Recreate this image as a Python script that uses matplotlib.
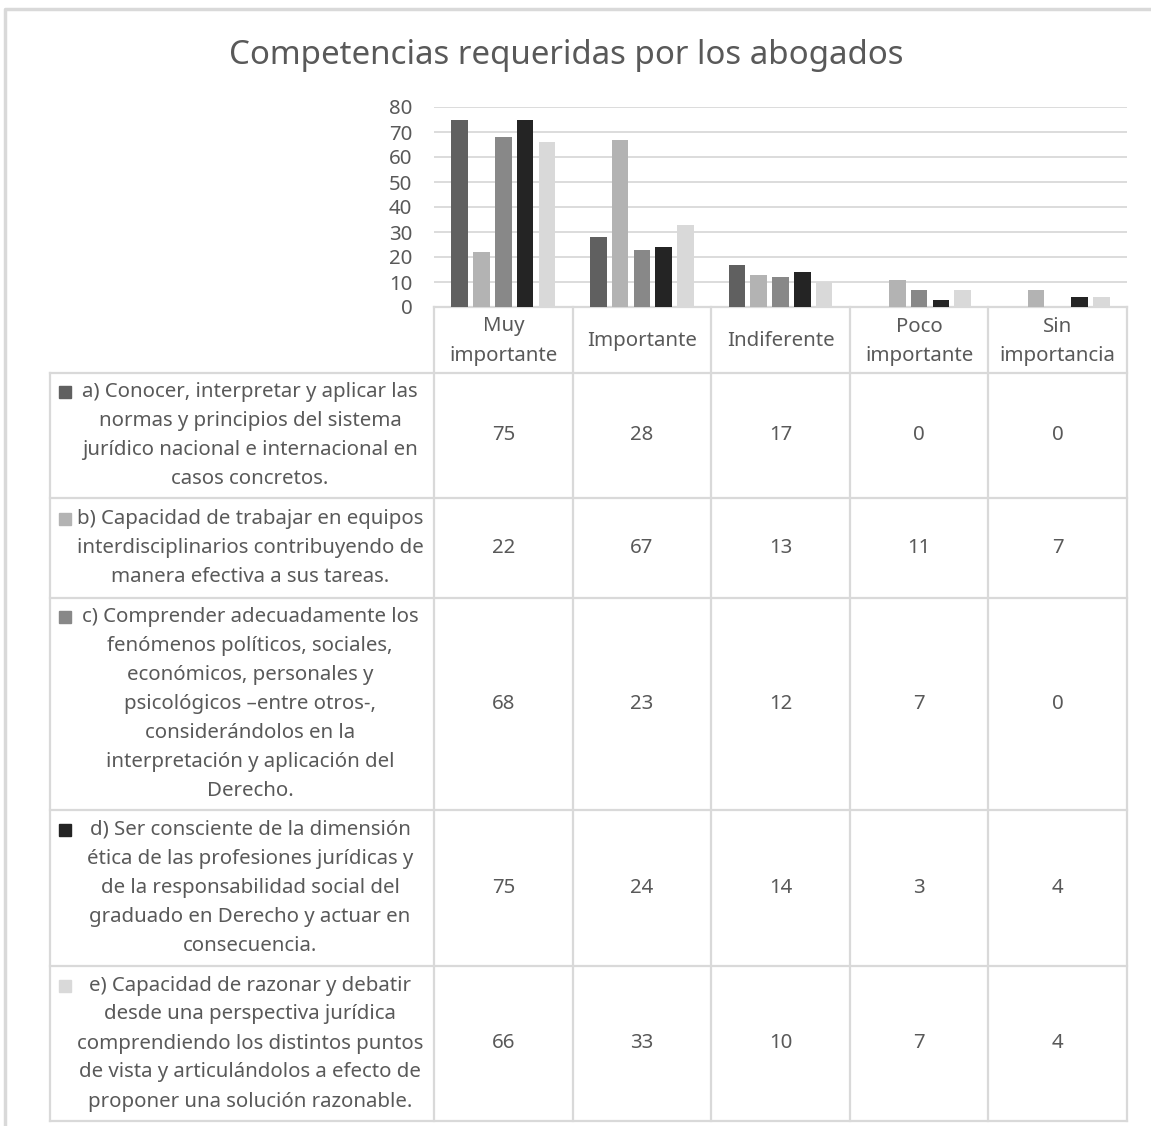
import matplotlib
matplotlib.use('Agg')
import matplotlib.pyplot as plt
import numpy as np

# data
categories = ['Muy\nimportante', 'Importante', 'Indiferente', 'Poco\nimportante', 'Sin\nimportancia']
series_labels = [
    'a) Conocer, interpretar y aplicar las\nnormas y principios del sistema\njurídico nacional e internacional en\ncasos concretos.',
    'b) Capacidad de trabajar en equipos\ninterdisciplinarios contribuyendo de\nmanera efectiva a sus tareas.',
    'c) Comprender adecuadamente los\nfenómenos políticos, sociales,\neconómicos, personales y\npsicológicos –entre otros-,\nconsiderándolos en la\ninterpretación y aplicación del\nDerecho.',
    'd) Ser consciente de la dimensión\nética de las profesiones jurídicas y\nde la responsabilidad social del\ngraduado en Derecho y actuar en\nconsecuencia.',
    'e) Capacidad de razonar y debatir\ndesde una perspectiva jurídica\ncomprendiendo los distintos puntos\nde vista y articulándolos a efecto de\nproponer una solución razonable.',
]
vals_a = [75, 28, 17, 0, 0]
vals_b = [22, 67, 13, 11, 7]
vals_c = [68, 23, 12, 7, 0]
vals_d = [75, 24, 14, 3, 4]
vals_e = [66, 33, 10, 7, 4]
yticks = [0, 10, 20, 30, 40, 50, 60, 70, 80]

series = [vals_a, vals_b, vals_c, vals_d, vals_e]
colors = ['#606060', '#b3b3b3', '#888888', '#242424', '#d9d9d9']
txt = '#595959'
grid = '#d9d9d9'
font = 'Noto Sans'
fs = 14.7
lh = 29  # line height in px

W, H = 1151, 1126
fig = plt.figure(figsize=(W / 100, H / 100), dpi=100)

# overlay in pixel coords for the table and frame
tab = fig.add_axes([0, 0, 1, 1])
tab.set_xlim(0, W)
tab.set_ylim(H, 0)
tab.axis('off')

# outer chart frame
tab.plot([5, 5, W + 5], [H + 5, 9, 9], color=grid, lw=2.5, solid_capstyle='butt')

tab.text(566, 55, 'Competencias requeridas por los abogados', ha='center', va='center',
         fontsize=23.8, color=txt, family=font)

# bar plot area
x0, x1 = 434, 1127
ytop, ybot = 107, 307
ax = fig.add_axes([x0 / W, 1 - ybot / H, (x1 - x0) / W, (ybot - ytop) / H])
ax.set_xlim(-0.5, len(categories) - 0.5)
ax.set_ylim(0, 80)
ax.patch.set_alpha(0)
x = np.arange(len(categories))
step, bw = 0.157, 0.12
for i, (v, c) in enumerate(zip(series, colors)):
    ax.bar(x + (i - 2) * step, v, bw, color=c, zorder=2)
ax.set_yticks(yticks)
ax.yaxis.grid(True, color=grid, lw=1.3, zorder=0)
ax.set_xticks([])
ax.tick_params(axis='y', length=0, labelsize=fs, labelcolor=txt, pad=15.5)
for lab in ax.get_yticklabels():
    lab.set_family(font)
for s in ax.spines.values():
    s.set_visible(False)

# data table
col_w = (x1 - x0) / len(categories)
col_edges = [x0 + k * col_w for k in range(len(categories) + 1)]
row_edges = [373, 498, 598, 810, 966, 1121]
lc = dict(color=grid, lw=1.6)
xl = 50


def lines_at(xc, cy, text):
    parts = text.split('\n')
    n = len(parts)
    ys = [cy + (j - (n - 1) / 2) * lh for j in range(n)]
    for p, yy in zip(parts, ys):
        tab.text(xc, yy, p, ha='center', va='center', fontsize=fs, color=txt, family=font)
    return ys


tab.plot([x0, x1], [ybot, ybot], **lc)
for ce in col_edges:
    tab.plot([ce, ce], [ybot, row_edges[-1]], **lc)
tab.plot([xl, xl], [row_edges[0], row_edges[-1]], **lc)
for re in row_edges:
    tab.plot([xl, x1], [re, re], **lc)

for k, cat in enumerate(categories):
    lines_at((col_edges[k] + col_edges[k + 1]) / 2, (ybot + row_edges[0]) / 2 + 1, cat)

for r, (lab, v, c) in enumerate(zip(series_labels, series, colors)):
    top, bot = row_edges[r], row_edges[r + 1]
    cy = (top + bot) / 2
    ys = lines_at(250, cy, lab)
    tab.add_patch(plt.Rectangle((59, ys[0] - 6), 12, 12, color=c))
    for k, val in enumerate(v):
        tab.text((col_edges[k] + col_edges[k + 1]) / 2, cy, str(val), ha='center', va='center',
                 fontsize=fs, color=txt, family=font)

fig.savefig('out.png', dpi=100)
